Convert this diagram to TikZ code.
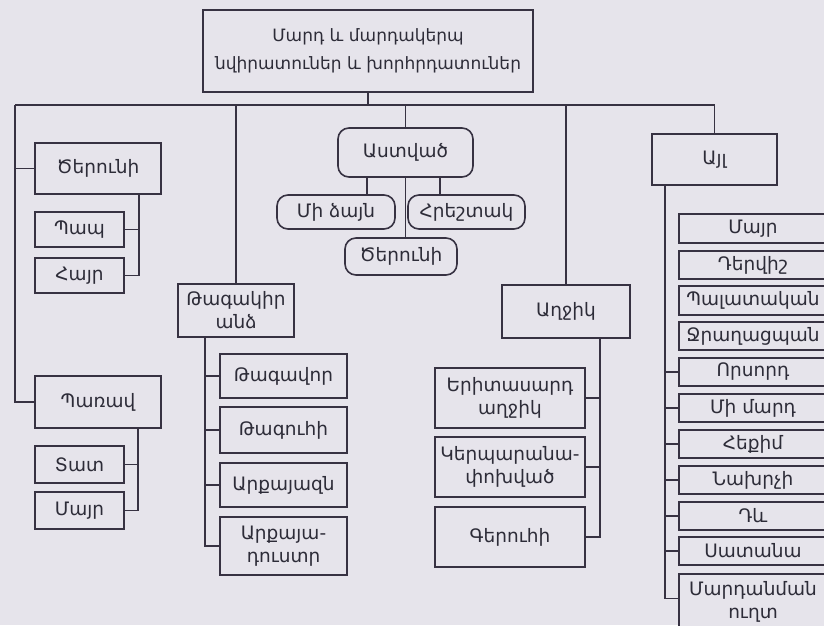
\documentclass[tikz,border=0pt]{standalone}
\usepackage{fontspec}
\newfontfamily\armf{DejaVu Sans}
\definecolor{bgc}{RGB}{230,228,235}
\definecolor{linec}{RGB}{55,50,66}
\definecolor{txtc}{RGB}{45,44,56}
\tikzset{
  box/.style={draw=linec, line width=1.6pt, fill=bgc, text=txtc, font=\armf\fontsize{18.5}{23}\selectfont, align=center, inner sep=0pt, minimum width=#1},
  rbox/.style={box=#1, rounded corners=11pt},
  conn/.style={draw=linec, line width=1.6pt}
}
\begin{document}
\begin{tikzpicture}[x=1pt,y=-1pt]
\fill[bgc] (0,0) rectangle (824,625);
\useasboundingbox (0,0) rectangle (824,625);
\begin{scope}
\clip (0,0) rectangle (824,625);
% top
\node[box=330, minimum height=82, font=\armf\fontsize{17}{28}\selectfont] (top) at (368,51) {Մարդ և մարդակերպ\\նվիրատուներ և խորհրդատուներ};
% left column
\node[box=126, minimum height=51] (cer1) at (98,168.5) {Ծերունի};
\node[box=89, minimum height=35] (pap) at (79.5,229.5) {Պապ};
\node[box=89, minimum height=35] (hayr) at (79.5,275.5) {Հայր};
\node[box=126, minimum height=52] (parav) at (98,402) {Պառավ};
\node[box=89, minimum height=37] (tat) at (79.5,464.5) {Տատ};
\node[box=89, minimum height=37] (mayrL) at (79.5,510.5) {Մայր};
% god
\node[rbox=135, minimum height=49] (astv) at (405.5,152.5) {Աստված};
\node[rbox=118, minimum height=34] (mdz) at (336,212) {Մի ձայն};
\node[rbox=117, minimum height=34] (hre) at (466.5,212) {Հրեշտակ};
\node[rbox=112, minimum height=37] (cer2) at (401,256.5) {Ծերունի};
% crowned
\node[box=116, minimum height=53] (tag) at (236,310.5) {Թագակիր\\անձ};
\node[box=127, minimum height=44] (tgv) at (283.5,376) {Թագավոր};
\node[box=127, minimum height=46] (tgh) at (283.5,430) {Թագուհի};
\node[box=127, minimum height=44] (arz) at (283.5,485) {Արքայազն};
\node[box=127, minimum height=58] (ard) at (283.5,546) {Արքայա-\\դուստր};
% girl
\node[box=128, minimum height=53] (agh) at (566,311.5) {Աղջիկ};
\node[box=150, minimum height=60] (eri) at (510,398) {Երիտասարդ\\աղջիկ};
\node[box=150, minimum height=60] (ker) at (510,467) {Կերպարանա-\\փոխված};
\node[box=150, minimum height=60] (ger) at (510,537) {Գերուհի};
% other
\node[box=125, minimum height=51] (ayl) at (714.5,159.5) {Այլ};
\node[box=148, minimum height=29] (r1) at (753,228.5) {Մայր};
\node[box=148, minimum height=28] (r2) at (753,265) {Դերվիշ};
\node[box=148, minimum height=29] (r3) at (753,300.5) {Պալատական};
\node[box=148, minimum height=28] (r4) at (753,336) {Ջրաղացպան};
\node[box=148, minimum height=28] (r5) at (753,372) {Որսորդ};
\node[box=148, minimum height=28] (r6) at (753,408) {Մի մարդ};
\node[box=148, minimum height=28] (r7) at (753,444) {Հեքիմ};
\node[box=148, minimum height=28] (r8) at (753,480) {Նախրչի};
\node[box=148, minimum height=28] (r9) at (753,516) {Դև};
\node[box=148, minimum height=28] (r10) at (753,551) {Սատանա};
\node[box=148, minimum height=57, anchor=north] (r11) at (753,573) {Մարդանման\\ուղտ};
% coordinates
\coordinate (bl) at (15,105);
\coordinate (b1) at (139,0);
\coordinate (b2) at (138,0);
\coordinate (c1) at (367,0);
\coordinate (c2) at (440,0);
\coordinate (b3) at (205,0);
\coordinate (b4) at (600,0);
\coordinate (b5) at (665,0);
% connectors
\draw[conn] (top.south) -- (top.south |- bl);
\draw[conn] (bl) -- (ayl.north |- bl) -- (ayl.north);
\draw[conn] (bl) |- (parav.west);
\draw[conn] (cer1.west) -- (cer1.west -| bl);
\draw[conn] (tag.north) -- (tag.north |- bl);
\draw[conn] (astv.north) -- (astv.north |- bl);
\draw[conn] (agh.north) -- (agh.north |- bl);
\draw[conn] (cer1.south -| b1) |- (hayr.east);
\draw[conn] (pap.east) -- (pap.east -| b1);
\draw[conn] (parav.south -| b2) |- (mayrL.east);
\draw[conn] (tat.east) -- (tat.east -| b2);
\draw[conn] (astv.south -| c1) -- (mdz.north -| c1);
\draw[conn] (astv.south -| c2) -- (hre.north -| c2);
\draw[conn] (astv.south) -- (astv.south |- cer2.north);
\draw[conn] (tag.south -| b3) |- (ard.west);
\foreach \n in {tgv,tgh,arz} \draw[conn] (\n.west) -- (\n.west -| b3);
\draw[conn] (agh.south -| b4) |- (ger.east);
\foreach \n in {eri,ker} \draw[conn] (\n.east) -- (\n.east -| b4);
\draw[conn] (ayl.south -| b5) |- ([yshift=4pt]r11.west);
\foreach \n in {r5,r6,r7,r8,r9,r10} \draw[conn] (\n.west) -- (\n.west -| b5);
\end{scope}
\end{tikzpicture}
\end{document}
